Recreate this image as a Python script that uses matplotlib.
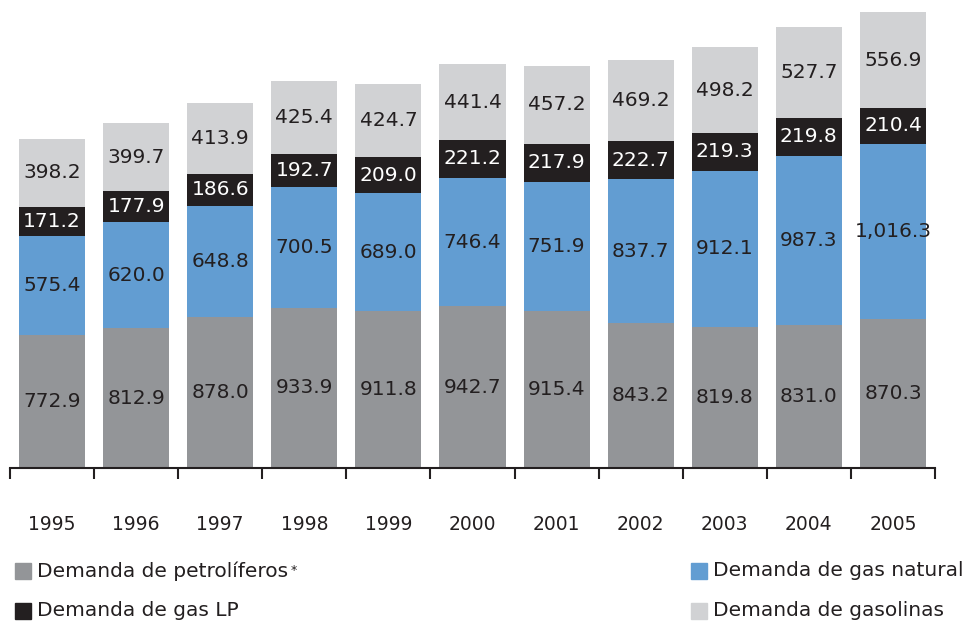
import matplotlib
matplotlib.use("Agg")
import matplotlib.pyplot as plt
from matplotlib.patches import Rectangle

years = ["1995", "1996", "1997", "1998", "1999", "2000", "2001", "2002", "2003", "2004", "2005"]
petroliferos = [772.9, 812.9, 878.0, 933.9, 911.8, 942.7, 915.4, 843.2, 819.8, 831.0, 870.3]
gas_natural = [575.4, 620.0, 648.8, 700.5, 689.0, 746.4, 751.9, 837.7, 912.1, 987.3, 1016.3]
gas_lp = [171.2, 177.9, 186.6, 192.7, 209.0, 221.2, 217.9, 222.7, 219.3, 219.8, 210.4]
gasolinas = [398.2, 399.7, 413.9, 425.4, 424.7, 441.4, 457.2, 469.2, 498.2, 527.7, 556.9]

series = [
    ("Demanda de petrolíferos", petroliferos, "#939598", "#231f20"),
    ("Demanda de gas natural", gas_natural, "#629dd2", "#231f20"),
    ("Demanda de gas LP", gas_lp, "#231f20", "white"),
    ("Demanda de gasolinas", gasolinas, "#d1d2d4", "#231f20"),
]

W, H = 967, 623
fig = plt.figure(figsize=(W / 100, H / 100), dpi=100)
ax = fig.add_axes([10 / W, 1 - 468 / H, 925 / W, 468 / H])

# stacked bars with the value centred in each segment
x = list(range(len(years)))
bottom = [0.0] * len(years)
for name, vals, color, tcolor in series:
    ax.bar(x, vals, bottom=bottom, width=0.785, color=color,
           edgecolor="none", zorder=2)
    for xi, b, v in zip(x, bottom, vals):
        ax.text(xi, b + v / 2, f"{v:,.1f}", ha="center", va="center",
                fontsize=14.5, color=tcolor, zorder=3)
    bottom = [b + v for b, v in zip(bottom, vals)]

ax.set_xlim(-0.5, len(years) - 0.5)
ax.set_ylim(0, 2725)
for s in ["top", "right", "left"]:
    ax.spines[s].set_visible(False)
ax.spines["bottom"].set_color("#231f20")
ax.spines["bottom"].set_linewidth(1.5)
ax.set_yticks([])
ax.set_xticks([i - 0.5 for i in range(len(years) + 1)])
ax.set_xticklabels([])
ax.tick_params(axis="x", direction="out", length=8, width=1.5, color="#231f20")
for xi, yr in zip(x, years):
    ax.text(xi, -57 / 468 * 2725, yr, ha="center", va="center",
            fontsize=13.5, color="#231f20")

# legend built by hand to match the two-column layout
legend_pos = [(15, 571), (15, 611), (691, 571), (691, 611)]
order = [0, 2, 1, 3]
for idx, (px, py) in zip(order, legend_pos):
    name, _, color, _ = series[idx]
    fig.patches.append(Rectangle((px / W, 1 - (py + 8) / H), 16 / W, 16 / H,
                                 transform=fig.transFigure, color=color,
                                 figure=fig))
    t = fig.text((px + 22) / W, 1 - py / H, name, ha="left", va="center",
                 fontsize=14.5, color="#231f20")
    if idx == 0:
        ax.annotate("*", xy=(1.0, 0.55), xycoords=t, xytext=(2, 0),
                    textcoords="offset points", ha="left", va="center",
                    fontsize=9, color="#231f20", annotation_clip=False)

fig.savefig("out.png", dpi=100)
